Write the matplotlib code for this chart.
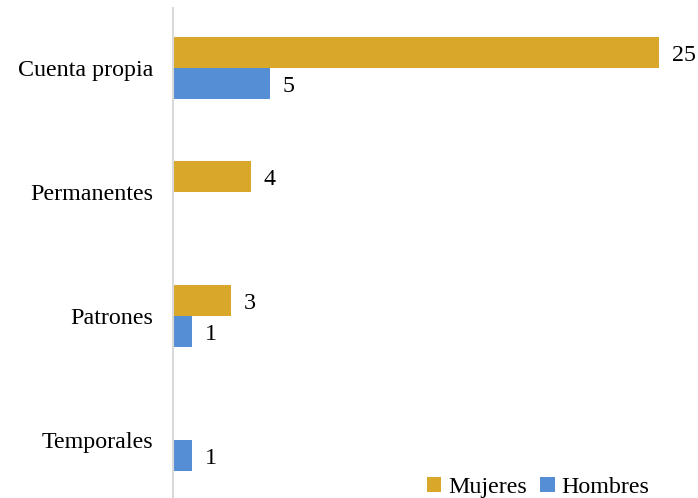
import matplotlib.pyplot as plt
import numpy as np

categorias = ['Cuenta propia', 'Permanentes', 'Patrones', 'Temporales']
mujeres = [25, 4, 3, 0]
hombres = [5, 0, 1, 1]

plt.rcParams['font.family'] = ['Liberation Serif', 'DejaVu Serif']

fig = plt.figure(figsize=(6.98, 4.98), dpi=100)
ax = fig.add_axes([173/698, 0, 525/698, 490/498])

y = np.arange(len(categorias))
h = 0.25
col_m = '#D9A82A'
col_h = '#558ED5'
fs = 17.3

bm = ax.barh(y - h/2, mujeres, height=h, color=col_m, label='Mujeres')
bh = ax.barh(y + h/2, hombres, height=h, color=col_h, label='Hombres')

#value labels only where a bar exists
for bars, vals in [(bm, mujeres), (bh, hombres)]:
    for b, v in zip(bars, vals):
        if v > 0:
            ax.annotate(str(v), (v, b.get_y() + b.get_height()/2),
                        xytext=(9, -2), textcoords='offset points',
                        va='center', ha='left', fontsize=fs)

ax.set_xlim(0, 27)
ax.set_ylim(3.468, -0.484)
ax.set_yticks(y)
ax.set_yticklabels(categorias, fontsize=fs)
ax.tick_params(axis='y', length=0, pad=14)
ax.set_xticks([])

for s in ['top', 'right', 'bottom']:
    ax.spines[s].set_visible(False)
ax.spines['left'].set_color('#d9d9d9')
ax.spines['left'].set_linewidth(1.5)

fig.legend(handles=[bm, bh], loc='lower right', bbox_to_anchor=(652/698, -0.005),
           ncol=2, frameon=False, fontsize=fs, handlelength=0.6,
           handleheight=0.6, handletextpad=0.3, columnspacing=0.55,
           borderpad=0.1, borderaxespad=0)

fig.savefig('out.png', dpi=100)
